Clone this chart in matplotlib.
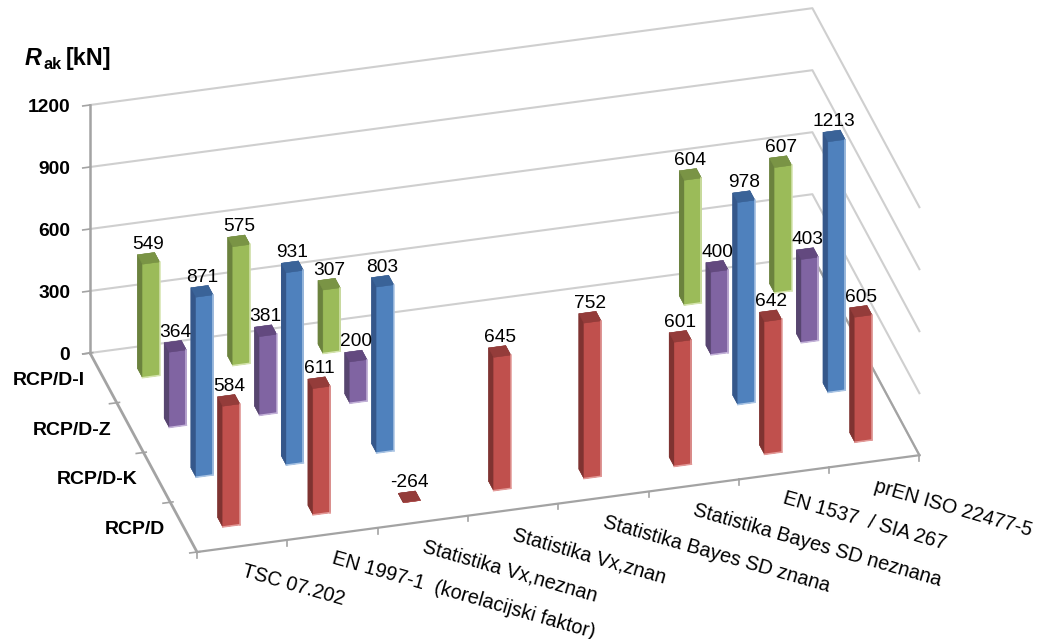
import numpy as np
import matplotlib
matplotlib.use("Agg")
import matplotlib.pyplot as plt

plt.rcParams['font.family'] = ['Liberation Sans', 'DejaVu Sans']

## data ##
categories = ["TSC 07.202", "EN 1997-1  (korelacijski faktor)", "Statistika Vx,neznan", "Statistika Vx,znan",
              "Statistika Bayes SD znana", "Statistika Bayes SD neznana", "EN 1537  / SIA 267", "prEN ISO 22477-5"]
series_names = ["RCP/D", "RCP/D-K", "RCP/D-Z", "RCP/D-I"]  # front to back
rcp_d = [584, 611, -264, 645, 752, 601, 642, 605]
rcp_d_k = [871, 931, 803, None, None, None, 978, 1213]
rcp_d_z = [364, 381, 200, None, None, None, 400, 403]
rcp_d_i = [549, 575, 307, None, None, None, 604, 607]
z_ticks = [0, 300, 600, 900, 1200]

# front, side, top and light edge colours for each series
styles = [("#C0504D", "#7F3331", "#943C3A", "#E39A98"),
          ("#4F81BD", "#35578A", "#3A6398", "#A9C4E4"),
          ("#8064A2", "#574570", "#63497F", "#C3B2D8"),
          ("#9BBB59", "#6B823E", "#7A9445", "#D5E4AE")]

## layout (pixels of the 1038x639 figure) ##
W, H = 1038, 639
bar_size = 0.19
grid_col = "#CFCFCF"
axis_col = "#A3A3A3"
label_dir = (1, -0.9028, 0)  # runs 16 degrees downhill on the page

# fixed oblique view: floor corner plus pixel step per unit of x, y and z, and a depth row for sorting
proj = np.array([[90.3, -26.75, 0.0, 197.0],
                 [12.1, 49.75, 62 / 300, H - 552.0],
                 [1 / 8, 1 / 4, -1 / 1200, 0.0],
                 [0.0, 0.0, 0.0, 1.0]])

fig = plt.figure(figsize=(W / 100, H / 100), dpi=100)
# 3D axes are always square, so let it stick out above and below the figure
pad = (W - H) / 2
ax = fig.add_axes([0, -pad / H, 1, W / H], projection='3d', computed_zorder=False)
ax.set_proj_type('ortho')
ax.get_proj = lambda: proj
ax.set_axis_off()

## walls and floor edges ##
for z in z_ticks:
    ax.plot([0, 8, 8], [4, 4, 0], [z, z, z], color=grid_col, lw=1.5, zorder=1)
ax.plot([0, 0], [4, 4], [0, 1200], color=axis_col, lw=1.8, zorder=2)
ax.plot([0, 0], [0, 4], [0, 0], color=axis_col, lw=2.0, zorder=2)
ax.plot([0, 8], [0, 0], [0, 0], color=axis_col, lw=1.6, zorder=2)
ax.plot([8, 8], [0, 4], [0, 0], color=axis_col, lw=1.6, zorder=2)

for z in z_ticks:
    ax.plot([-0.08, 0], [4, 4], [z, z], color=axis_col, lw=1.2, zorder=2)
    ax.text(-0.22, 4, z, str(z), ha='right', va='center', fontsize=13.9, fontweight='bold', zorder=50)
for j in range(5):
    ax.plot([-0.08, 0.03], [j, j], [0, 0], color=axis_col, lw=1.2, zorder=2)
for i in range(9):
    ax.plot([i, i], [0, 0], [-28, 0], color=axis_col, lw=1.2, zorder=2)

for j, name in enumerate(series_names):
    ax.text(-0.21, j + 0.5, 0, name, ha='right', va='center', fontsize=14, fontweight='bold', zorder=50)
for i, name in enumerate(categories):
    ax.text(i + 0.5, 0, -118, name, zdir=label_dir, ha='left', va='center', rotation_mode='anchor',
            fontsize=14.3, zorder=50)

## bars, back row first ##
rows = [rcp_d, rcp_d_k, rcp_d_z, rcp_d_i]
order = 3
for j in [3, 2, 1, 0]:
    front, side, top, light = styles[j]
    for i in range(7, -1, -1):
        v = rows[j][i]
        if v is None:
            continue
        h = max(v, 0)  # the floor sits at 0, a negative bar is cut off there
        x0 = i + 0.5 - bar_size / 2
        y0 = j + 0.5 - bar_size / 2
        # face order: bottom, top, -y, +y, -x, +x
        faces = [top, top, front, side, side, side]
        ax.bar3d(x0, y0, 0, bar_size, bar_size, h, color=faces, shade=False,
                 edgecolor=faces, linewidth=0.3, zorder=order)
        order += 1
        if h > 0:
            x1 = x0 + bar_size
            ax.plot([x1, x1], [y0, y0], [0, h], color=light, lw=1.1, zorder=order)
            ax.plot([x0, x1], [y0, y0], [0, 0], color=light, lw=1.1, zorder=order)
            order += 1
        ax.text(i + 0.5, j + 0.5, h + 68, str(v), ha='center', va='center', fontsize=13.8, zorder=60)

# the 2D limits of the 3D axes are the pixel frame the view above maps into
ax.viewLim.intervalx = (0, W)
ax.viewLim.intervaly = (-pad, H + pad)

## axis title ##
fig.text(25 / W, 1 - 65 / H, "R", fontsize=16.8, fontweight='bold', fontstyle='italic', va='baseline')
fig.text(43 / W, 1 - 69 / H, "ak", fontsize=11.7, fontweight='bold', va='baseline')
fig.text(66 / W, 1 - 65 / H, "[kN]", fontsize=16.8, fontweight='bold', va='baseline')

fig.savefig("out.png", dpi=100)
